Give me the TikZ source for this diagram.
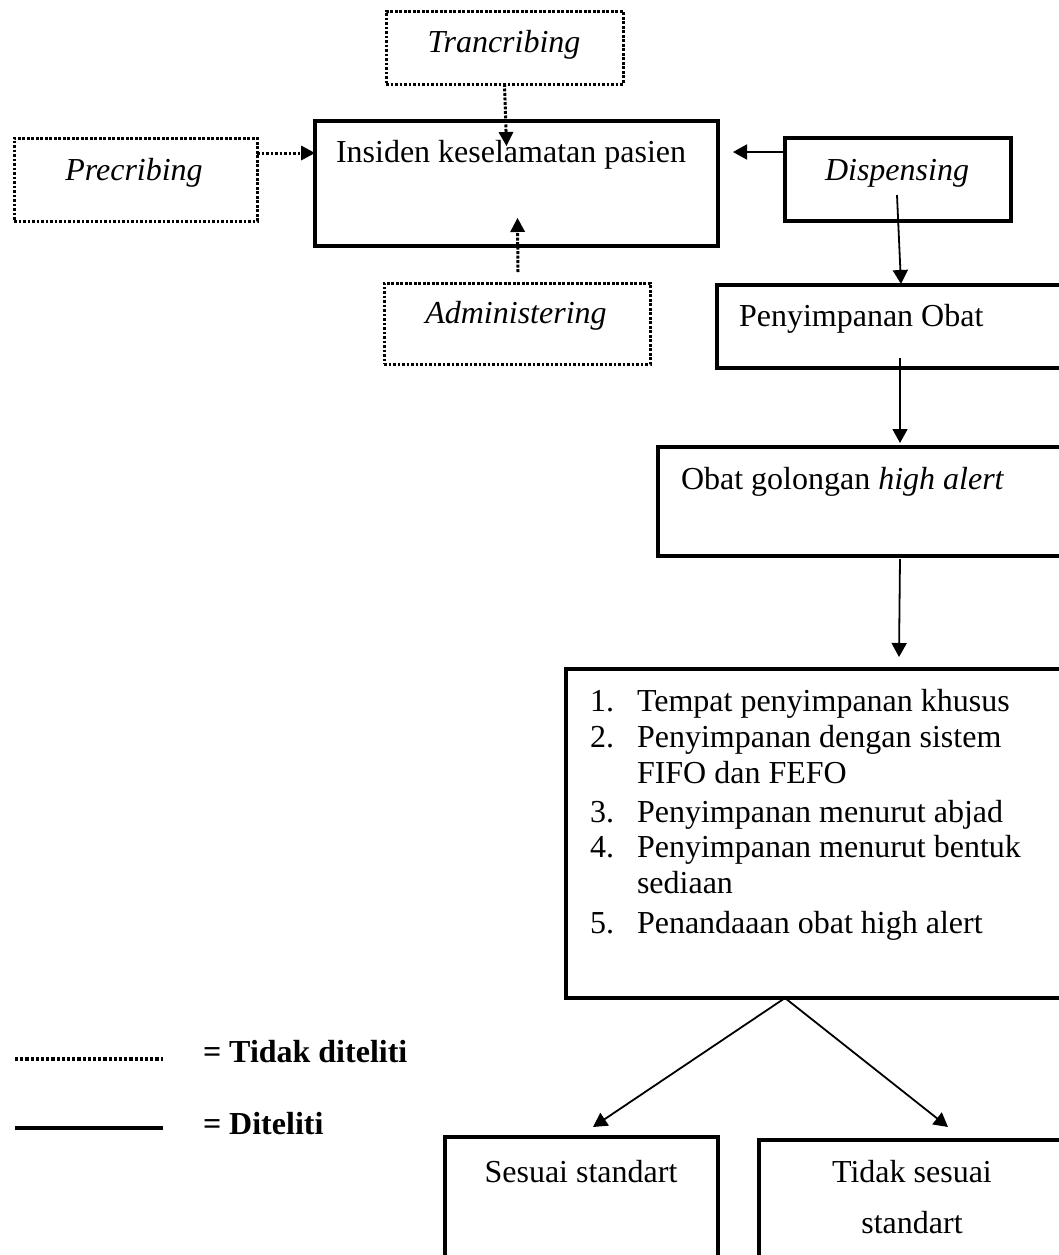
\documentclass[tikz,border=0pt]{standalone}
\usepackage{fontspec}
\setmainfont{Liberation Serif}
\usetikzlibrary{arrows.meta,fit,calc}
\begin{document}
\begin{tikzpicture}[x=0.5pt,y=-0.5pt,
  solidbox/.style={draw=black,line width=1.9pt,inner sep=0pt,outer sep=0pt,rectangle},
  dotbox/.style={draw=black,line width=1.5pt,dash pattern=on 1.4pt off 0.85pt,inner sep=0pt,outer sep=0pt,rectangle},
  txt/.style={inner sep=0pt,outer sep=0pt,font=\fontsize{16}{18}\selectfont},
  arr/.style={line width=0.9pt,-{Triangle[length=7pt,width=7.5pt]}},
  dotarr/.style={line width=1.5pt,dash pattern=on 1.4pt off 0.85pt,-{Triangle[length=7pt,width=7.5pt,line width=0pt]}},
]
\clip (0,0) rectangle (1059,1255);
\fill[white] (0,0) rectangle (1059,1255);

% boxes
\node[dotbox,fit={(386,11)(623,84)}] (trans) {};
\node[solidbox,fit={(315,121)(718,246)}] (main) {};
\node[dotbox,fit={(14,138)(257,221)}] (prec) {};
\node[dotbox,fit={(384,283)(650,364)}] (admin) {};
\node[solidbox,fit={(785,138)(1011,221)}] (disp) {};
\node[solidbox,fit={(717,285)(1064,368)}] (peny) {};
\node[solidbox,fit={(658,447)(1064,556)}] (golong) {};
\node[solidbox,fit={(566,669)(1064,998)}] (list) {};
\node[solidbox,fit={(445,1137)(718,1268)}] (ses) {};
\node[solidbox,fit={(759,1140)(1064,1268)}] (tdk) {};

% texts
\node[txt,anchor=base] (ttrans) at (504,52) {\itshape Trancribing};
\node[txt,anchor=base west] (tmain) at (336,162) {Insiden keselamatan pasien};
\node[txt,anchor=base] (tprec) at (134,180) {\itshape Precribing};
\node[txt,anchor=base] (tdisp) at (897,180) {\itshape Dispensing};
\node[txt,anchor=base] (tadmin) at (516,323) {\itshape Administering};
\node[txt,anchor=base west] (tpeny) at (739,326) {Penyimpanan Obat};
\node[txt,anchor=base west] (tgolong) at (681,489) {Obat golongan \textit{high alert}};

\node[txt,anchor=base west] (n1) at (590,711) {1.};
\node[txt,anchor=base west] (l1) at (637,711) {Tempat penyimpanan khusus};
\node[txt,anchor=base west] (n2) at (590,747) {2.};
\node[txt,anchor=base west] (l2) at (637,747) {Penyimpanan dengan sistem};
\node[txt,anchor=base west] (l2b) at (637,783) {FIFO dan FEFO};
\node[txt,anchor=base west] (n3) at (590,822) {3.};
\node[txt,anchor=base west] (l3) at (637,822) {Penyimpanan menurut abjad};
\node[txt,anchor=base west] (n4) at (590,857) {4.};
\node[txt,anchor=base west] (l4) at (637,857) {Penyimpanan menurut bentuk};
\node[txt,anchor=base west] (l4b) at (637,893) {sediaan};
\node[txt,anchor=base west] (n5) at (590,933) {5.};
\node[txt,anchor=base west] (l5) at (637,933) {Penandaaan obat high alert};

\node[txt,anchor=base] (tses) at (581,1182) {Sesuai standart};
\node[txt,anchor=base] (ttdk1) at (912,1182) {Tidak sesuai};
\node[txt,anchor=base] (ttdk2) at (912,1233) {standart};

% connectors
\draw[dotarr] (trans.south) -- ($(main.north)+(-10,25)$);
\draw[dotarr] ($(prec.north east)+(0,15)$) -- ($(main.north west)+(0,32)$);
\draw[dotarr] ($(admin.north)+(1,-11)$) -- ($(main.south)+(1,-28)$);
\draw[arr] ($(disp.north west)+(0,14)$) -- ($(main.north east)+(15,31)$);
\draw[arr] ($(disp.south)+(-1,-26)$) -- ($(peny.north west)+(184,-1)$);
\draw[arr] ($(peny.south west)+(183,-10)$) -- ($(golong.north west)+(242,-4)$);
\draw[arr] ($(golong.south west)+(242,3)$) -- ($(list.north west)+(333,-12)$);
\draw[arr] ($(list.south west)+(219,0)$) -- ($(ses.north)+(11.5,-10)$);
\draw[arr] ($(list.south west)+(219,0)$) -- ($(tdk.north west)+(189,-13)$);

% legend
\coordinate (d1) at (15,1059);
\coordinate (d2) at (163,1059);
\draw[line width=1.7pt,dash pattern=on 1.6pt off 1.0pt] (d1) -- (d2);
\node[txt,anchor=base west,font=\fontsize{16}{18}\selectfont\bfseries] (leg1) at (203,1062) {= Tidak diteliti};
\coordinate (s1) at (15,1128);
\coordinate (s2) at (163,1128);
\draw[line width=1.7pt] (s1) -- (s2);
\node[txt,anchor=base west,font=\fontsize{16}{18}\selectfont\bfseries] (leg2) at (203,1134) {= Diteliti};
\end{tikzpicture}
\end{document}
